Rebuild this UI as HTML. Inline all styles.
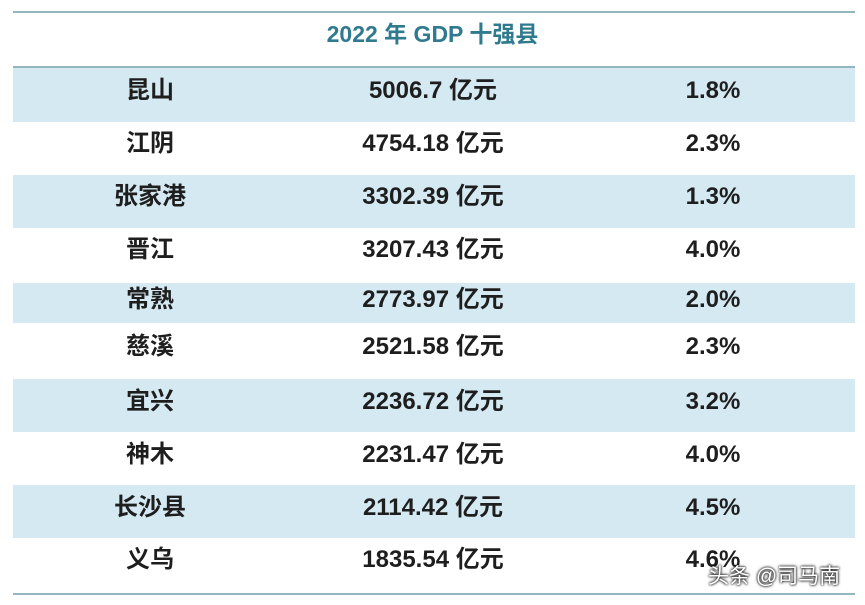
<!DOCTYPE html>
<html><head><meta charset="utf-8"><style>
body{margin:0;width:865px;height:605px;background:#fff;position:relative;overflow:hidden;font-family:"Liberation Sans","Noto Sans CJK SC",sans-serif;}
.line{position:absolute;left:13px;width:842px;height:2px;background:#93b6c2;}
.row{position:absolute;left:13px;width:842px;}
.blue{background:#d4e9f2;}
.t{position:absolute;height:26px;line-height:26px;text-align:center;font-weight:bold;font-size:24px;color:#1e1e1e;white-space:nowrap;}
.c1{left:77px;width:120px;}
.c2{left:300px;width:240px;}
.c3{left:640px;width:120px;}
.title{position:absolute;left:0;width:865px;top:20px;line-height:28px;text-align:center;font-weight:bold;font-size:23px;color:#2f7a8e;}
.wm{position:absolute;left:708px;top:564px;line-height:26px;font-size:21px;color:#fff;text-shadow:0 0 3px #000,0 0 2px #000;}
</style></head><body>
<div class="line" style="top:11px"></div>
<div class="title">2022 年 GDP 十强县</div>
<div class="line" style="top:66px"></div>
<div class="row blue" style="top:68px;height:54px"><div class="t c1" style="top:10px">昆山</div><div class="t c2" style="top:10px">5006.7 亿元</div><div class="t c3" style="top:10px">1.8%</div></div>
<div class="row" style="top:122px;height:53px"><div class="t c1" style="top:9px">江阴</div><div class="t c2" style="top:9px">4754.18 亿元</div><div class="t c3" style="top:9px">2.3%</div></div>
<div class="row blue" style="top:175px;height:53px"><div class="t c1" style="top:9px">张家港</div><div class="t c2" style="top:9px">3302.39 亿元</div><div class="t c3" style="top:9px">1.3%</div></div>
<div class="row" style="top:228px;height:55px"><div class="t c1" style="top:9px">晋江</div><div class="t c2" style="top:9px">3207.43 亿元</div><div class="t c3" style="top:9px">4.0%</div></div>
<div class="row blue" style="top:283px;height:40px"><div class="t c1" style="top:4px">常熟</div><div class="t c2" style="top:4px">2773.97 亿元</div><div class="t c3" style="top:4px">2.0%</div></div>
<div class="row" style="top:323px;height:56px"><div class="t c1" style="top:11px">慈溪</div><div class="t c2" style="top:11px">2521.58 亿元</div><div class="t c3" style="top:11px">2.3%</div></div>
<div class="row blue" style="top:379px;height:53px"><div class="t c1" style="top:10px">宜兴</div><div class="t c2" style="top:10px">2236.72 亿元</div><div class="t c3" style="top:10px">3.2%</div></div>
<div class="row" style="top:432px;height:53px"><div class="t c1" style="top:10px">神木</div><div class="t c2" style="top:10px">2231.47 亿元</div><div class="t c3" style="top:10px">4.0%</div></div>
<div class="row blue" style="top:485px;height:53px"><div class="t c1" style="top:10px">长沙县</div><div class="t c2" style="top:10px">2114.42 亿元</div><div class="t c3" style="top:10px">4.5%</div></div>
<div class="row" style="top:538px;height:54px"><div class="t c1" style="top:9px">义乌</div><div class="t c2" style="top:9px">1835.54 亿元</div><div class="t c3" style="top:9px">4.6%</div></div>
<div class="line" style="top:593px"></div>
<div class="wm">头条 @司马南</div>
</body></html>
